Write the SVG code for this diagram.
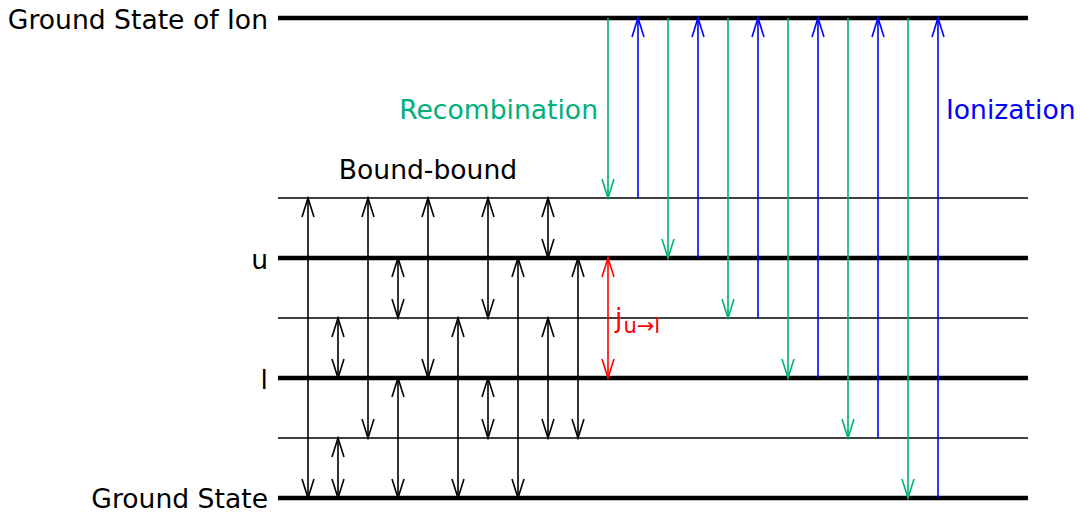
<svg xmlns="http://www.w3.org/2000/svg" width="1080" height="512" viewBox="0 0 1080 512">
<style>
text{font-family:"DejaVu Sans",sans-serif;font-size:26.6px}
.thick{stroke:#000;stroke-width:4.5}
.thin{stroke:#000;stroke-width:1.5}
.bb{stroke:#000;stroke-width:1.6;fill:none;marker-start:url(#hk);marker-end:url(#hk)}
.red{stroke:#ff0000;stroke-width:1.6;fill:none;marker-start:url(#hr);marker-end:url(#hr)}
.gr{stroke:#00b07a;stroke-width:1.6;fill:none;marker-end:url(#hg)}
.bl{stroke:#0000ff;stroke-width:1.6;fill:none;marker-end:url(#hb)}
</style>
<defs>
<marker id="hk" markerUnits="userSpaceOnUse" viewBox="-22 -8 24 16" refX="0" refY="0" markerWidth="24" markerHeight="16" orient="auto-start-reverse"><path d="M-19,-6 L0,0 L-19,6" fill="none" stroke="#000" stroke-width="1.6"/></marker>
<marker id="hr" markerUnits="userSpaceOnUse" viewBox="-22 -8 24 16" refX="0" refY="0" markerWidth="24" markerHeight="16" orient="auto-start-reverse"><path d="M-19,-6 L0,0 L-19,6" fill="none" stroke="#ff0000" stroke-width="1.6"/></marker>
<marker id="hg" markerUnits="userSpaceOnUse" viewBox="-22 -8 24 16" refX="0" refY="0" markerWidth="24" markerHeight="16" orient="auto"><path d="M-19,-6 L0,0 L-19,6" fill="none" stroke="#00b07a" stroke-width="1.6"/></marker>
<marker id="hb" markerUnits="userSpaceOnUse" viewBox="-22 -8 24 16" refX="0" refY="0" markerWidth="24" markerHeight="16" orient="auto"><path d="M-19,-6 L0,0 L-19,6" fill="none" stroke="#0000ff" stroke-width="1.6"/></marker>
</defs>
<g id="levels">
<line class="thick" x1="278" y1="18" x2="1028" y2="18"/>
<line class="thin" x1="278" y1="198" x2="1028" y2="198"/>
<line class="thick" x1="278" y1="258" x2="1028" y2="258"/>
<line class="thin" x1="278" y1="318" x2="1028" y2="318"/>
<line class="thick" x1="278" y1="378" x2="1028" y2="378"/>
<line class="thin" x1="278" y1="438" x2="1028" y2="438"/>
<line class="thick" x1="278" y1="498" x2="1028" y2="498"/>
</g>
<g id="labels">
<text x="268" y="29" text-anchor="end">Ground State of Ion</text>
<text x="268" y="269" text-anchor="end">u</text>
<text x="268" y="389" text-anchor="end">l</text>
<text x="268" y="508" text-anchor="end">Ground State</text>
<text x="428" y="179" text-anchor="middle">Bound-bound</text>
<text x="598" y="119" text-anchor="end" fill="#00b07a">Recombination</text>
<text x="946" y="119" fill="#0000ff">Ionization</text>
<text x="615" y="327" fill="#ff0000">j<tspan font-size="21" dx="1" dy="6">u→l</tspan></text>
</g>
<g id="connectors">
<line class="bb" x1="308" y1="198" x2="308" y2="498"/>
<line class="bb" x1="368" y1="198" x2="368" y2="438"/>
<line class="bb" x1="428" y1="198" x2="428" y2="378"/>
<line class="bb" x1="488" y1="198" x2="488" y2="318"/>
<line class="bb" x1="548" y1="198" x2="548" y2="258"/>
<line class="bb" x1="338" y1="318" x2="338" y2="378"/>
<line class="bb" x1="338" y1="438" x2="338" y2="498"/>
<line class="bb" x1="398" y1="258" x2="398" y2="318"/>
<line class="bb" x1="398" y1="378" x2="398" y2="498"/>
<line class="bb" x1="458" y1="318" x2="458" y2="498"/>
<line class="bb" x1="518" y1="258" x2="518" y2="498"/>
<line class="bb" x1="548" y1="318" x2="548" y2="438"/>
<line class="bb" x1="488" y1="378" x2="488" y2="438"/>
<line class="bb" x1="578" y1="258" x2="578" y2="438"/>
<line class="red" x1="608" y1="258" x2="608" y2="378"/>
<line class="gr" x1="608" y1="18" x2="608" y2="198"/>
<line class="gr" x1="668" y1="18" x2="668" y2="258"/>
<line class="gr" x1="728" y1="18" x2="728" y2="318"/>
<line class="gr" x1="788" y1="18" x2="788" y2="378"/>
<line class="gr" x1="848" y1="18" x2="848" y2="438"/>
<line class="gr" x1="908" y1="18" x2="908" y2="498"/>
<line class="bl" x1="638" y1="198" x2="638" y2="18"/>
<line class="bl" x1="698" y1="258" x2="698" y2="18"/>
<line class="bl" x1="758" y1="318" x2="758" y2="18"/>
<line class="bl" x1="818" y1="378" x2="818" y2="18"/>
<line class="bl" x1="878" y1="438" x2="878" y2="18"/>
<line class="bl" x1="938" y1="498" x2="938" y2="18"/>
</g>
</svg>
